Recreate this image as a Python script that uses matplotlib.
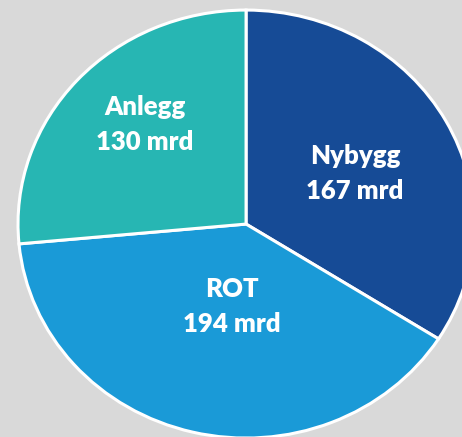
import matplotlib
matplotlib.use("Agg")
import matplotlib.pyplot as plt

categories = ["Nybygg", "ROT", "Anlegg"]
values = [167, 194, 130]
value_labels = ["167 mrd", "194 mrd", "130 mrd"]
colors = ["#164B96", "#1A9AD7", "#27B6B3"]

fig = plt.figure(figsize=(4.62, 4.37), dpi=100)
fig.patch.set_facecolor("#D9D9D9")
ax = fig.add_axes([0, 0, 1, 1])
ax.set_facecolor("#D9D9D9")

ax.pie(values, colors=colors, startangle=90, counterclock=False,
       wedgeprops=dict(edgecolor="white", linewidth=2.2))
ax.set_aspect("auto")
ax.set_xlim(-1.079, 0.947)
ax.set_ylim(-0.995, 1.047)
ax.axis("off")

label_pos = {"Nybygg": (0.478, 0.238), "ROT": (-0.061, -0.383), "Anlegg": (-0.443, 0.463)}
for cat, vl in zip(categories, value_labels):
    x, y = label_pos[cat]
    ax.text(x, y, f"{cat}\n{vl}", ha="center", va="center", color="white",
            fontsize=18.5, fontweight="heavy", family=["Lato", "DejaVu Sans"],
            linespacing=1.55)

fig.savefig("out.png", dpi=100, facecolor=fig.get_facecolor())
